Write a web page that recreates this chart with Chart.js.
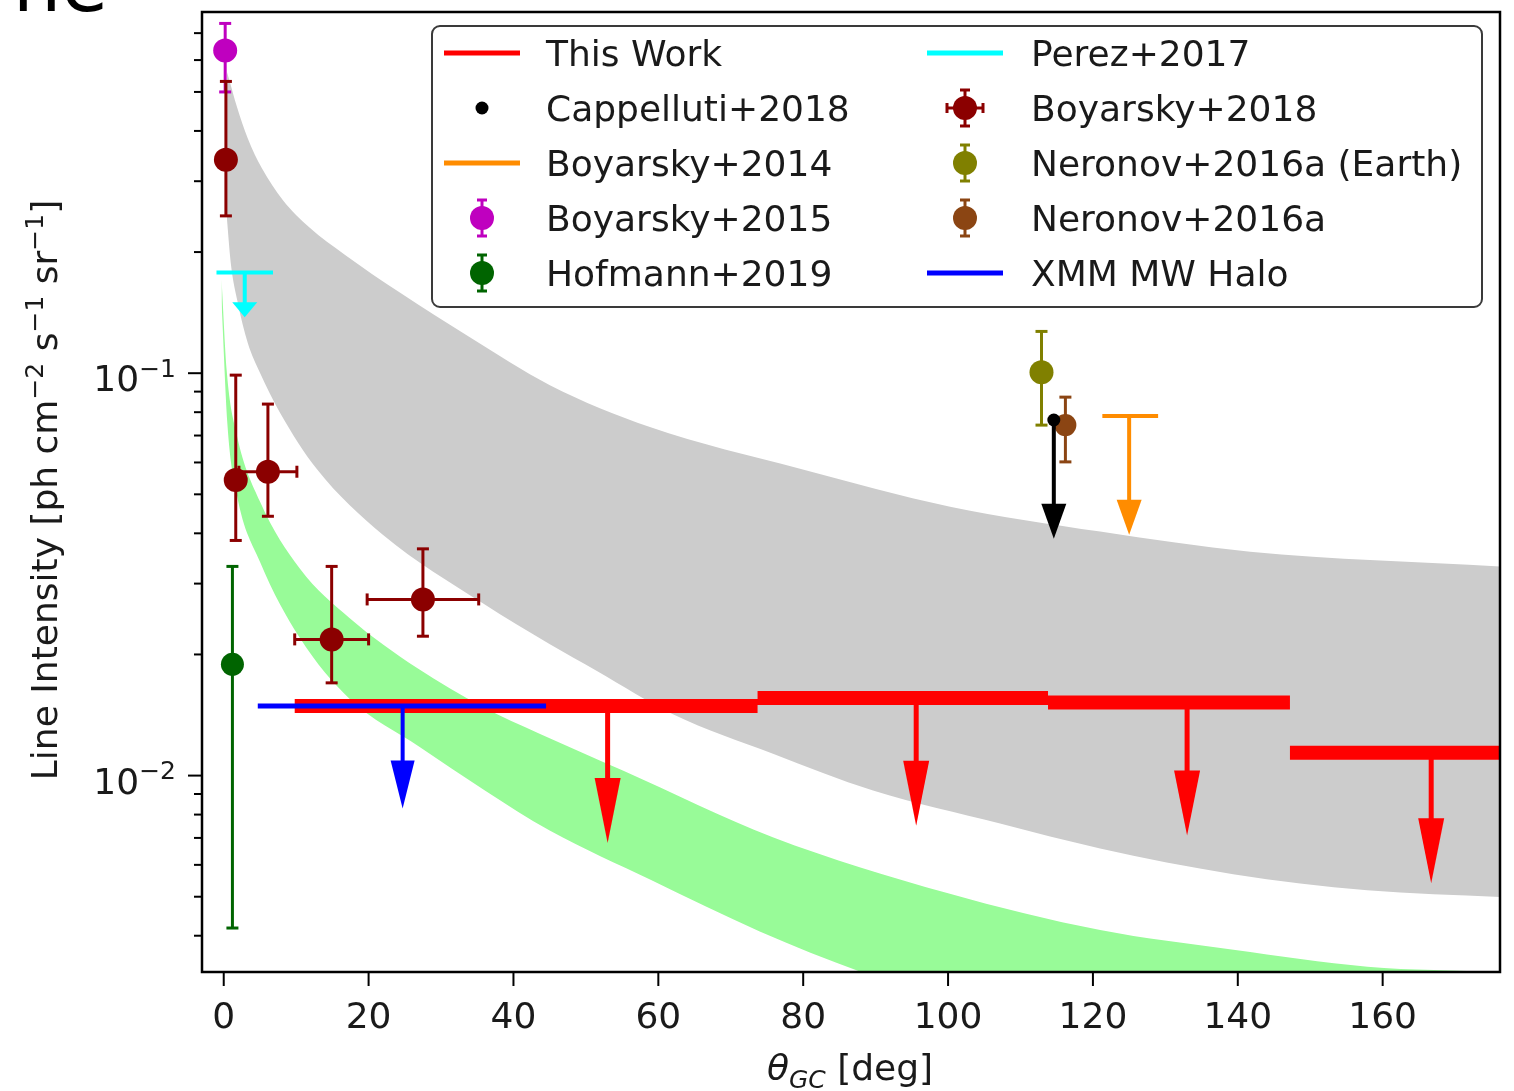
<!DOCTYPE html>
<html>
<head>
<meta charset="utf-8">
<script src="https://cdn.jsdelivr.net/npm/chart.js@4.4.1/dist/chart.umd.min.js"></script>
<style>
  html, body { margin: 0; padding: 0; background: #fff; }
</style>
</head>
<body>
<canvas id="chart" width="1514" height="1091"></canvas>
<script>
// axis ranges and ticks
const xMin = -3.0, xMax = 176.2;
const yMin = 0.00325, yMax = 0.79;
const xTicks = [0, 20, 40, 60, 80, 100, 120, 140, 160];
const yMajorTicks = [0.01, 0.1];
const yMajorLabels = ['\u22122', '\u22121'];
const yMinorTicks = [0.004, 0.005, 0.006, 0.007, 0.008, 0.009,
  0.02, 0.03, 0.04, 0.05, 0.06, 0.07, 0.08, 0.09,
  0.2, 0.3, 0.4, 0.5, 0.6, 0.7];

// model bands
const greyUpperX = [0.45, 0.83, 1.8, 3.31, 5.25, 8.15, 11.88, 16.71, 24.31, 33.98, 45.03, 58.84, 79.56, 100.28, 121.0, 141.71, 176.24];
const greyUpperY = [0.56, 0.531, 0.4606, 0.3838, 0.3235, 0.2696, 0.2298, 0.197, 0.1586, 0.1228, 0.0934, 0.0735, 0.0579, 0.0466, 0.0404, 0.036, 0.0331];
const greyLowerX = [0.41, 0.97, 1.93, 3.31, 4.97, 7.73, 12.85, 21.96, 35.77, 45.03, 51.52, 62.02, 75.83, 89.64, 107.18, 120.99, 139.36, 157.87, 176.24];
const greyLowerY = [0.246, 0.188, 0.150, 0.119, 0.1005, 0.080, 0.0578, 0.0397, 0.0268, 0.0212, 0.0182, 0.0142, 0.01133, 0.00918, 0.0076, 0.00659, 0.00569, 0.00519, 0.00499];
const greenUpperX = [-0.3, 0.4, 1.8, 5.0, 10.5, 17.4, 26.7, 35.8, 43.6, 55.1, 75.8, 100, 121, 139.4, 157.9, 176.2];
const greenUpperY = [0.171, 0.102, 0.0703, 0.048, 0.0327, 0.0246, 0.0185, 0.0148, 0.0127, 0.01029, 0.00703, 0.0051, 0.00413, 0.00369, 0.00335, 0.00325];
const greenLowerX = [-0.3, 0.5, 1.8, 5.0, 10.5, 17.4, 27, 36, 45, 59, 74, 88, 110, 140, 176.2];
const greenLowerY = [0.15, 0.075, 0.050, 0.034, 0.022, 0.0155, 0.0118, 0.0092, 0.0073, 0.0055, 0.0041, 0.00325, 0.0024, 0.0018, 0.0015];

// This Work: upper-limit bins
const thisWorkLo = [9.8, 73.7, 113.8, 147.2];
const thisWorkHi = [73.7, 113.8, 147.2, 186];
const thisWorkY = [0.0149, 0.0156, 0.0152, 0.0114];
const thisWorkArrowX = [53.0, 95.6, 133.0, 166.7];
const thisWorkArrowTip = [0.0068, 0.0075, 0.0071, 0.0054];

// XMM MW Halo
const xmmLo = [4.7], xmmHi = [44.5], xmmY = [0.0149];
const xmmArrowX = [24.7], xmmArrowTip = [0.00828];

// Perez+2017
const perezLo = [-1.0], perezHi = [6.8], perezY = [0.178];
const perezArrowX = [2.9], perezArrowTip = [0.1377];

// Boyarsky+2014
const boy14Lo = [121.3], boy14Hi = [129.0], boy14Y = [0.0783];
const boy14ArrowX = [125.0], boy14ArrowTip = [0.0397];

// Cappelluti+2018
const cappX = [114.6], cappY = [0.0765], cappTip = [0.0388];

// points with error bars
const boy15X = [0.2], boy15Y = [0.634], boy15Lo = [0.50], boy15Hi = [0.74];
const boy18X = [0.3, 1.66, 6.1, 14.9, 27.5];
const boy18Y = [0.339, 0.0543, 0.0569, 0.0218, 0.0274];
const boy18Lo = [0.246, 0.0384, 0.0441, 0.0170, 0.0222];
const boy18Hi = [0.531, 0.0989, 0.0838, 0.0331, 0.0366];
const boy18XLo = [0.3, 1.66, 2.1, 9.8, 19.8];
const boy18XHi = [0.3, 1.66, 10.1, 20.0, 35.2];
const hofX = [1.2], hofY = [0.0189], hofLo = [0.00418], hofHi = [0.0331];
const nerEX = [112.9], nerEY = [0.1006], nerELo = [0.0743], nerEHi = [0.127];
const nerX = [116.2], nerY = [0.0743], nerLo = [0.0602], nerHi = [0.0872];

const FONT = '"DejaVu Sans"';
const FS = 36;
const TXT = '#1a1a1a';
const C = {
  red: '#ff0000', blue: '#0000ff', cyan: '#00ffff', orange: '#ff8c00', black: '#000000',
  magenta: '#bf00bf', darkred: '#8b0000', green: '#006400', olive: '#808000', brown: '#8b4513',
  grey: '#cccccc', pale: '#98fb98'
};

const pts = (xs, ys) => xs.map((x, i) => ({ x: x, y: ys[i] }));
const bars = (lo, hi, ys) => lo.flatMap((l, i) => [{ x: l, y: ys[i] }, { x: hi[i], y: ys[i] }, { x: hi[i], y: null }]);

function band(label, xs, ys, fill, color) {
  return { type: 'line', label, data: pts(xs, ys), fill: fill ? '+1' : false, backgroundColor: color,
    borderWidth: 0, pointRadius: 0, cubicInterpolationMode: 'monotone', order: 20 };
}
function hline(label, lo, hi, ys, color, width, order) {
  return { type: 'line', label, data: bars(lo, hi, ys), borderColor: color, borderWidth: width,
    borderCapStyle: 'butt', pointRadius: 0, spanGaps: false, fill: false, order };
}
function marker(label, xs, ys, color, r, order) {
  return { type: 'line', label, data: pts(xs, ys), showLine: false, pointRadius: r,
    pointBackgroundColor: color, pointBorderWidth: 0, pointBorderColor: color, order };
}

const datasets = [
  band('grey upper', greyUpperX, greyUpperY, true, C.grey),
  band('grey lower', greyLowerX, greyLowerY, false, C.grey),
  band('green upper', greenUpperX, greenUpperY, true, C.pale),
  band('green lower', greenLowerX, greenLowerY, false, C.pale),
  hline('This Work', thisWorkLo, thisWorkHi, thisWorkY, C.red, 14, 8),
  hline('XMM MW Halo', xmmLo, xmmHi, xmmY, C.blue, 5, 7),
  hline('Perez+2017', perezLo, perezHi, perezY, C.cyan, 4, 7),
  hline('Boyarsky+2014', boy14Lo, boy14Hi, boy14Y, C.orange, 4, 7),
  marker('Boyarsky+2015', boy15X, boy15Y, C.magenta, 12, 5),
  marker('Boyarsky+2018', boy18X, boy18Y, C.darkred, 12, 5),
  marker('Hofmann+2019', hofX, hofY, C.green, 11.5, 5),
  marker('Neronov+2016a (Earth)', nerEX, nerEY, C.olive, 12, 5),
  marker('Neronov+2016a', nerX, nerY, C.brown, 11, 4),
  marker('Cappelluti+2018', cappX, cappY, C.black, 6.5, 2)
];

const errorSeries = [
  { x: boy15X, lo: boy15Lo, hi: boy15Hi, color: C.magenta },
  { x: boy18X, lo: boy18Lo, hi: boy18Hi, xlo: boy18XLo, xhi: boy18XHi, y: boy18Y, color: C.darkred },
  { x: hofX, lo: hofLo, hi: hofHi, color: C.green },
  { x: nerEX, lo: nerELo, hi: nerEHi, color: C.olive },
  { x: nerX, lo: nerLo, hi: nerHi, color: C.brown }
];

const arrowSeries = [
  { x: thisWorkArrowX, from: thisWorkY, to: thisWorkArrowTip, color: C.red, w: 5, hw: 26, hl: 65 },
  { x: xmmArrowX, from: xmmY, to: xmmArrowTip, color: C.blue, w: 4, hw: 24, hl: 48 },
  { x: perezArrowX, from: perezY, to: perezArrowTip, color: C.cyan, w: 4, hw: 25, hl: 15 },
  { x: boy14ArrowX, from: boy14Y, to: boy14ArrowTip, color: C.orange, w: 4, hw: 25, hl: 35 },
  { x: cappX, from: cappY, to: cappTip, color: C.black, w: 4, hw: 25, hl: 35 }
];

const legendItems = [
  { label: 'This Work', kind: 'line', color: C.red },
  { label: 'Cappelluti+2018', kind: 'dot', color: C.black },
  { label: 'Boyarsky+2014', kind: 'line', color: C.orange },
  { label: 'Boyarsky+2015', kind: 'err', color: C.magenta },
  { label: 'Hofmann+2019', kind: 'err', color: C.green },
  { label: 'Perez+2017', kind: 'line', color: C.cyan },
  { label: 'Boyarsky+2018', kind: 'errx', color: C.darkred },
  { label: 'Neronov+2016a (Earth)', kind: 'err', color: C.olive },
  { label: 'Neronov+2016a', kind: 'err', color: C.brown },
  { label: 'XMM MW Halo', kind: 'line', color: C.blue }
];

function seg(ctx, x1, y1, x2, y2) {
  ctx.beginPath(); ctx.moveTo(x1, y1); ctx.lineTo(x2, y2); ctx.stroke();
}

// text pieces with superscripts (s=1) and subscripts (s=-1)
function richText(ctx, parts, x, y, size, align) {
  const small = Math.round(size * 0.7);
  const widths = parts.map(p => {
    ctx.font = (p.i ? 'italic ' : '') + (p.s ? small : size) + 'px ' + FONT;
    return ctx.measureText(p.t).width;
  });
  const total = widths.reduce((a, b) => a + b, 0);
  let cx = align === 'center' ? x - total / 2 : align === 'right' ? x - total : x;
  ctx.textAlign = 'left';
  ctx.textBaseline = 'alphabetic';
  parts.forEach((p, i) => {
    ctx.font = (p.i ? 'italic ' : '') + (p.s ? small : size) + 'px ' + FONT;
    const dy = p.s === 1 ? -size * 0.4 : p.s === -1 ? size * 0.22 : 0;
    ctx.fillText(p.t, cx, y + dy);
    cx += widths[i];
  });
}

const errorBarPlugin = {
  id: 'errorBars',
  beforeDatasetsDraw(chart) {
    const { ctx, scales: { x, y } } = chart;
    ctx.save();
    ctx.lineWidth = 3;
    errorSeries.forEach(s => {
      ctx.strokeStyle = s.color;
      s.x.forEach((xv, i) => {
        const px = x.getPixelForValue(xv);
        const y1 = y.getPixelForValue(s.lo[i]), y2 = y.getPixelForValue(s.hi[i]);
        seg(ctx, px, y1, px, y2);
        seg(ctx, px - 6, y1, px + 6, y1);
        seg(ctx, px - 6, y2, px + 6, y2);
        if (s.xlo && s.xhi[i] > s.xlo[i]) {
          const py = y.getPixelForValue(s.y[i]);
          const x1 = x.getPixelForValue(s.xlo[i]), x2 = x.getPixelForValue(s.xhi[i]);
          seg(ctx, x1, py, x2, py);
          seg(ctx, x1, py - 6, x1, py + 6);
          seg(ctx, x2, py - 6, x2, py + 6);
        }
      });
    });
    ctx.restore();
  }
};

const arrowPlugin = {
  id: 'arrows',
  afterDatasetsDraw(chart) {
    const { ctx, scales: { x, y } } = chart;
    ctx.save();
    arrowSeries.forEach(s => {
      ctx.strokeStyle = s.color;
      ctx.fillStyle = s.color;
      ctx.lineWidth = s.w;
      s.x.forEach((xv, i) => {
        const px = x.getPixelForValue(xv);
        const y0 = y.getPixelForValue(s.from[i]);
        const y1 = y.getPixelForValue(s.to[i]);
        seg(ctx, px, y0, px, y1 - s.hl + 1);
        ctx.beginPath();
        ctx.moveTo(px - s.hw / 2, y1 - s.hl);
        ctx.lineTo(px + s.hw / 2, y1 - s.hl);
        ctx.lineTo(px, y1);
        ctx.closePath();
        ctx.fill();
      });
    });
    ctx.restore();
  }
};

const axesPlugin = {
  id: 'axesDraw',
  afterDatasetsDraw(chart) {
    const { ctx, chartArea: a, scales: { x, y } } = chart;
    ctx.save();
    ctx.strokeStyle = '#000';
    ctx.lineWidth = 2.5;
    ctx.strokeRect(a.left, a.top, a.right - a.left, a.bottom - a.top);
    ctx.lineWidth = 2;
    ctx.fillStyle = TXT;
    ctx.font = FS + 'px ' + FONT;
    ctx.textAlign = 'center';
    ctx.textBaseline = 'alphabetic';
    xTicks.forEach(v => {
      const px = x.getPixelForValue(v);
      seg(ctx, px, a.bottom, px, a.bottom + 14);
      ctx.fillText(String(v), px, a.bottom + 56);
    });
    yMinorTicks.forEach(v => {
      const py = y.getPixelForValue(v);
      seg(ctx, a.left - 8, py, a.left, py);
    });
    yMajorTicks.forEach((v, i) => {
      const py = y.getPixelForValue(v);
      seg(ctx, a.left - 14, py, a.left, py);
      richText(ctx, [{ t: '10' }, { t: yMajorLabels[i], s: 1 }], a.left - 26, py + 18, FS, 'right');
    });
    // axis titles
    richText(ctx, [{ t: '\u03b8', i: 1 }, { t: 'GC', i: 1, s: -1 }, { t: ' [deg]' }], 850, 1080, FS, 'center');
    ctx.translate(57, 490);
    ctx.rotate(-Math.PI / 2);
    richText(ctx, [{ t: 'Line Intensity [ph cm' }, { t: '\u22122', s: 1 }, { t: ' s' }, { t: '\u22121', s: 1 },
      { t: ' sr' }, { t: '\u22121', s: 1 }, { t: ']' }], 0, 0, FS, 'center');
    ctx.restore();
  }
};

const legendPlugin = {
  id: 'legendBox',
  afterDraw(chart) {
    const ctx = chart.ctx;
    ctx.save();
    // fragment of text cut off at the top of the picture
    ctx.fillStyle = '#000';
    ctx.font = '76px ' + FONT;
    ctx.textAlign = 'left';
    ctx.fillText('ne', 13, 11);

    ctx.beginPath();
    ctx.roundRect(432, 26, 1050, 281, 8);
    ctx.fillStyle = 'rgba(255,255,255,0.9)';
    ctx.fill();
    ctx.strokeStyle = '#3a3a3a';
    ctx.lineWidth = 2;
    ctx.stroke();
    legendItems.forEach((it, k) => {
      const col = Math.floor(k / 5), row = k % 5;
      const hx = col ? 965 : 482;
      const tx = col ? 1031 : 546;
      const ry = 53 + row * 55;
      ctx.strokeStyle = it.color;
      ctx.fillStyle = it.color;
      if (it.kind === 'line') {
        ctx.lineWidth = 5;
        seg(ctx, hx - 38, ry, hx + 38, ry);
      } else if (it.kind === 'dot') {
        ctx.beginPath(); ctx.arc(hx, ry, 6.5, 0, Math.PI * 2); ctx.fill();
      } else {
        ctx.lineWidth = 3;
        seg(ctx, hx, ry - 18, hx, ry + 18);
        seg(ctx, hx - 5, ry - 18, hx + 5, ry - 18);
        seg(ctx, hx - 5, ry + 18, hx + 5, ry + 18);
        if (it.kind === 'errx') {
          seg(ctx, hx - 18, ry, hx + 18, ry);
          seg(ctx, hx - 18, ry - 5, hx - 18, ry + 5);
          seg(ctx, hx + 18, ry - 5, hx + 18, ry + 5);
        }
        ctx.beginPath(); ctx.arc(hx, ry, 12, 0, Math.PI * 2); ctx.fill();
      }
      ctx.fillStyle = TXT;
      ctx.font = FS + 'px ' + FONT;
      ctx.textAlign = 'left';
      ctx.textBaseline = 'alphabetic';
      ctx.fillText(it.label, tx, ry + 13);
    });
    ctx.restore();
  }
};

new Chart(document.getElementById('chart').getContext('2d'), {
  type: 'line',
  data: { datasets },
  options: {
    responsive: false,
    animation: false,
    devicePixelRatio: 1,
    layout: { padding: { top: 8, right: 14, left: 0, bottom: 0 } },
    plugins: {
      legend: { display: false },
      tooltip: { enabled: false },
      filler: { drawTime: 'beforeDatasetsDraw' }
    },
    scales: {
      x: {
        type: 'linear', min: xMin, max: xMax,
        ticks: { display: false }, grid: { display: false }, border: { display: false },
        afterFit: s => { s.height = 119; }
      },
      y: {
        type: 'logarithmic', min: yMin, max: yMax,
        ticks: { display: false }, grid: { display: false }, border: { display: false },
        afterFit: s => { s.width = 202; }
      }
    }
  },
  plugins: [errorBarPlugin, arrowPlugin, axesPlugin, legendPlugin]
});
</script>
</body>
</html>
